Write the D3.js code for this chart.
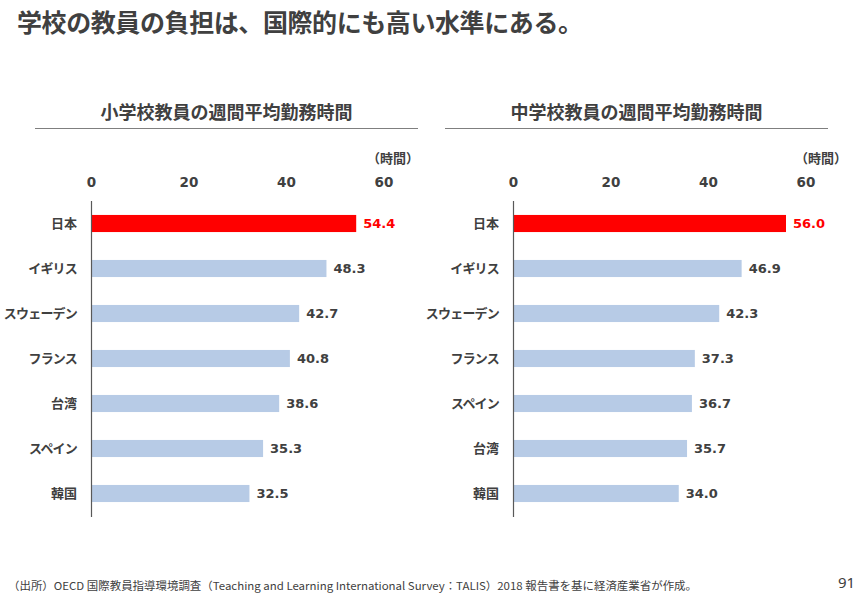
<!DOCTYPE html>
<html>
<head>
<meta charset="utf-8">
<script src="https://cdn.jsdelivr.net/npm/d3@7"></script>
<style>
  body { margin: 0; background: #fff; }
  svg text { font-family: "Noto Sans CJK JP", "Noto Sans", sans-serif; }
</style>
</head>
<body>
<div id="chart"></div>
<script>
// Data
const elementaryCountries = ["日本", "イギリス", "スウェーデン", "フランス", "台湾", "スペイン", "韓国"];
const elementaryHours = [54.4, 48.3, 42.7, 40.8, 38.6, 35.3, 32.5];
const juniorCountries = ["日本", "イギリス", "スウェーデン", "フランス", "スペイン", "台湾", "韓国"];
const juniorHours = [56.0, 46.9, 42.3, 37.3, 36.7, 35.7, 34.0];
const tickValues = [0, 20, 40, 60];
const highlight = "日本";

const width = 858;
const height = 594;
const textColor = "#404040";
const numFont = "'DejaVu Sans', Verdana, sans-serif";

const svg = d3.select("#chart")
    .append("svg")
    .attr("width", width)
    .attr("height", height);

// Page title
svg.append("text")
    .attr("x", 17)
    .attr("y", 32)
    .attr("font-size", 25)
    .attr("font-weight", "bold")
    .attr("fill", textColor)
    .attr("textLength", 566)
    .attr("lengthAdjust", "spacing")
    .text("学校の教員の負担は、国際的にも高い水準にある。");

const drawPanel = (title, countries, hours, opts) => {
    const x = d3.scaleLinear().domain([0, 60]).range([opts.x0, opts.x0 + 292.5]);
    const y = d3.scaleBand().domain(countries).range([201, 516]).paddingInner(0.62).paddingOuter(0.31);

    // Header and rule
    svg.append("text")
        .attr("x", (opts.ruleL + opts.ruleR) / 2)
        .attr("y", 119)
        .attr("text-anchor", "middle")
        .attr("font-size", 18)
        .attr("font-weight", "bold")
        .attr("fill", textColor)
        .text(title);

    svg.append("line")
        .attr("x1", opts.ruleL)
        .attr("x2", opts.ruleR)
        .attr("y1", 128.5)
        .attr("y2", 128.5)
        .attr("stroke", "#7f7f7f")
        .attr("stroke-width", 1.2);

    // Unit
    svg.append("text")
        .attr("x", opts.unitX)
        .attr("y", 163)
        .attr("text-anchor", "end")
        .attr("font-size", 13)
        .attr("font-weight", "bold")
        .attr("fill", textColor)
        .text("（時間）");

    // Top axis
    const axis = svg.append("g")
        .attr("transform", "translate(0,182)")
        .call(d3.axisTop(x).tickValues(tickValues).tickSize(0).tickPadding(0));
    axis.select(".domain").remove();
    axis.selectAll("text")
        .attr("dy", "0.35em")
        .attr("font-size", 13.5)
        .attr("font-weight", "bold")
        .attr("fill", textColor)
        .style("font-family", numFont);

    // Bars
    svg.append("g").selectAll("rect")
        .data(countries)
        .join("rect")
        .attr("x", x(0))
        .attr("y", d => y(d))
        .attr("width", (d, i) => x(hours[i]) - x(0))
        .attr("height", y.bandwidth())
        .attr("fill", d => d === highlight ? "#ff0000" : "#b7cbe6");

    // Baseline
    svg.append("line")
        .attr("x1", x(0) + 0.5)
        .attr("x2", x(0) + 0.5)
        .attr("y1", 201)
        .attr("y2", 517)
        .attr("stroke", "#595959")
        .attr("stroke-width", 1.2);

    // Category labels
    svg.append("g").selectAll("text")
        .data(countries)
        .join("text")
        .attr("x", x(0) - 14)
        .attr("y", d => y(d) + y.bandwidth() / 2)
        .attr("dy", "0.35em")
        .attr("text-anchor", "end")
        .attr("font-size", 13)
        .attr("font-weight", "bold")
        .attr("letter-spacing", d => d.length > 2 ? -0.8 : 0)
        .attr("fill", textColor)
        .text(d => d);

    // Value labels
    svg.append("g").selectAll("text")
        .data(countries)
        .join("text")
        .attr("x", (d, i) => x(hours[i]) + 7)
        .attr("y", d => y(d) + y.bandwidth() / 2)
        .attr("dy", "0.36em")
        .attr("font-size", 13)
        .attr("font-weight", "bold")
        .attr("fill", d => d === highlight ? "#ff0000" : textColor)
        .style("font-family", numFont)
        .text((d, i) => hours[i].toFixed(1));
};

drawPanel("小学校教員の週間平均勤務時間", elementaryCountries, elementaryHours,
    { x0: 91, ruleL: 35, ruleR: 418, unitX: 419 });
drawPanel("中学校教員の週間平均勤務時間", juniorCountries, juniorHours,
    { x0: 513, ruleL: 445, ruleR: 828, unitX: 847 });

// Footer
svg.append("text")
    .attr("x", 8)
    .attr("y", 590)
    .attr("font-size", 11)
    .attr("fill", textColor)
    .attr("textLength", 689)
    .attr("lengthAdjust", "spacingAndGlyphs")
    .text("（出所）OECD 国際教員指導環境調査（Teaching and Learning International Survey：TALIS）2018 報告書を基に経済産業省が作成。");

svg.append("text")
    .attr("x", 838)
    .attr("y", 588)
    .attr("font-size", 15)
    .attr("fill", textColor)
    .style("font-family", "'Noto Sans', sans-serif")
    .text("91");
</script>
</body>
</html>
